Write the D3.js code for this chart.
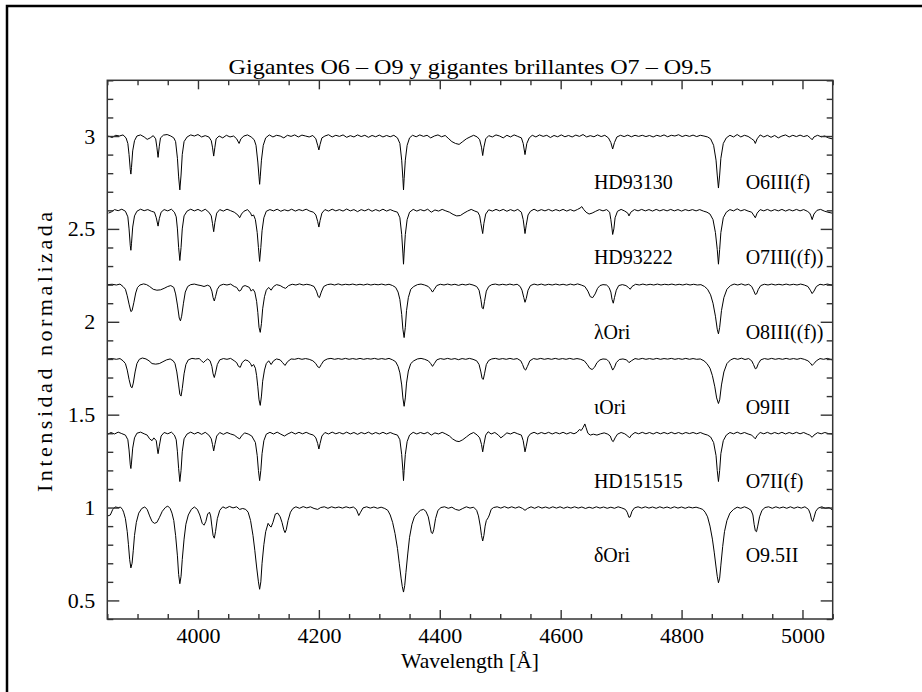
<!DOCTYPE html>
<html lang="es">
<head>
<meta charset="UTF-8">
<title>Gigantes O6 - O9</title>
<script src="https://d3js.org/d3.v7.min.js"></script>
<style>
  body { margin: 0; background: #fff; }
  svg text { font-family: "Liberation Serif", "DejaVu Serif", serif; fill: #000; }
</style>
</head>
<body>
<div id="chart"></div>
<script>
const width = 922, height = 692;

// offsets of each normalised spectrum, labels and where they sit
const offsets = [2.0, 1.6, 1.2, 0.8, 0.4, 0.0];
const starNames = ["HD93130", "HD93222", "λOri", "ιOri", "HD151515", "δOri"];
const spTypes = ["O6III(f)", "O7III((f))", "O8III((f))", "O9III", "O7II(f)", "O9.5II"];
const labelLevels = [2.715, 2.31, 1.905, 1.505, 1.105, 0.705];
const xTickLabels = [4000, 4200, 4400, 4600, 4800, 5000];
const yTickLabels = [0.5, 1, 1.5, 2, 2.5, 3];

// spectra: [wavelength (A), normalised flux]
const hd93130 = [[3852,1.00],[3858,0.992],[3864,1.004],[3870,1.0],[3876,1.006],[3881,0.99],
  [3884,0.96],[3886,0.9],[3888,0.82],[3889,0.795],[3890,0.83],[3892,0.92],[3895,0.975],
  [3899,1.0],[3905,1.006],[3911,0.995],[3916,0.982],[3921,0.99],[3926,1.002],
  [3930,0.985],[3932,0.94],[3934,0.885],[3936,0.945],[3938,0.99],
  [3943,1.005],[3949,1.008],[3955,1.0],[3960,0.99],
  [3963,0.97],[3966,0.88],[3968,0.78],[3970,0.71],[3972,0.79],[3974,0.9],[3977,0.97],
  [3982,0.995],[3988,1.006],[3994,1.0],[4000,1.008],[4006,0.995],[4012,1.002],[4018,0.995],
  [4022,0.975],[4024,0.94],[4026,0.892],[4028,0.94],[4030,0.985],
  [4035,1.0],[4041,0.99],[4047,1.004],[4053,0.995],[4059,1.0],
  [4064,0.985],[4068,0.96],[4071,0.985],
  [4076,1.0],[4082,1.006],[4088,0.995],[4093,0.98],
  [4096,0.95],[4099,0.86],[4101,0.78],[4102,0.74],[4103,0.78],[4105,0.87],[4108,0.95],[4112,0.99],
  [4118,1.006],[4124,0.995],[4130,1.004],[4136,1.0],[4142,0.99],[4148,1.004],[4154,0.998],[4160,1.006],
  [4166,0.995],[4172,1.005],[4178,1.0],[4184,0.995],[4190,1.003],
  [4195,0.985],[4198,0.95],[4200,0.925],[4202,0.955],[4205,0.99],
  [4210,1.0],[4216,1.007],[4222,0.995],[4228,1.004],[4234,0.998],[4240,1.006],[4246,0.993],[4252,1.002],
  [4258,0.995],[4264,1.006],[4270,0.997],[4276,1.004],[4282,0.993],[4288,1.003],[4294,0.996],[4300,1.005],
  [4306,0.995],[4312,1.003],[4318,0.996],[4324,1.004],[4330,0.99],
  [4334,0.96],[4337,0.87],[4339,0.77],[4340,0.71],[4341,0.77],[4343,0.87],[4346,0.95],[4350,0.99],
  [4355,1.004],[4361,0.996],[4367,1.006],[4373,0.998],[4379,1.004],[4385,0.99],[4391,1.0],[4397,1.006],
  [4403,0.996],[4409,1.003],[4415,0.985],
  [4420,0.97],[4426,0.96],[4432,0.955],[4438,0.97],[4444,0.985],[4450,0.995],[4456,1.004],[4462,0.995],
  [4466,0.98],[4469,0.94],[4471,0.895],[4473,0.94],[4476,0.985],
  [4481,1.002],[4487,0.995],[4493,1.006],[4499,1.0],[4505,0.99],[4511,1.004],[4517,0.995],[4523,1.006],
  [4529,0.998],[4535,0.99],
  [4538,0.96],[4541,0.90],[4544,0.96],[4548,0.99],
  [4553,1.004],[4559,0.995],[4565,1.006],[4571,0.998],[4577,1.004],[4583,0.992],[4589,1.003],[4595,0.996],
  [4601,1.006],[4607,0.996],[4613,1.003],[4619,0.995],[4625,1.005],[4631,0.998],[4637,1.008],[4643,0.995],
  [4649,1.002],[4655,0.996],[4661,1.006],[4667,0.997],[4673,1.004],[4679,0.99],
  [4683,0.965],[4686,0.93],[4689,0.965],[4693,0.995],
  [4699,1.004],[4705,0.997],[4711,1.005],[4717,0.996],[4723,1.004],[4729,0.998],[4735,1.004],[4741,0.997],
  [4747,1.003],[4753,0.995],[4759,1.004],[4765,0.998],[4771,1.006],[4777,0.996],[4783,1.004],[4789,1.0],
  [4795,1.007],[4801,0.997],[4807,1.004],[4813,0.998],[4819,1.005],[4825,0.997],[4831,1.004],[4837,1.0],[4843,0.995],
  [4848,0.985],[4853,0.95],[4857,0.87],[4859,0.79],[4861,0.72],[4863,0.79],[4865,0.88],[4869,0.96],[4874,0.99],
  [4880,1.004],[4886,0.995],[4892,1.008],[4898,0.995],[4904,1.004],[4910,0.998],[4916,0.985],
  [4920,0.975],[4922,0.96],[4925,0.985],
  [4930,1.006],[4936,0.995],[4942,1.004],[4948,0.993],[4954,1.003],[4960,0.99],[4966,1.0],[4972,1.006],
  [4978,0.995],[4984,1.004],[4990,0.997],[4996,1.005],[5002,0.997],[5008,1.003],[5013,0.99],
  [5016,0.98],[5019,0.995],
  [5025,1.004],[5031,0.996],[5037,1.0],[5043,0.99],[5049,0.985]];

const hd93222 = [[3852,0.985],[3857,0.992],[3862,1.004],[3868,0.998],[3874,1.006],[3880,0.995],
  [3884,0.965],[3886,0.9],[3888,0.81],[3889,0.785],[3890,0.82],[3892,0.91],[3895,0.97],
  [3899,0.995],[3905,1.006],[3911,0.998],[3917,1.004],[3923,0.995],[3928,0.99],
  [3931,0.96],[3934,0.915],[3936,0.955],[3939,0.99],
  [3944,1.004],[3950,0.997],[3956,1.006],[3961,0.99],
  [3964,0.965],[3966,0.9],[3968,0.8],[3970,0.73],[3972,0.8],[3974,0.9],[3977,0.97],
  [3982,0.996],[3988,1.006],[3994,0.997],[4000,1.005],[4006,0.995],[4012,1.006],[4018,0.99],
  [4022,0.97],[4024,0.93],[4026,0.885],[4028,0.935],[4031,0.985],
  [4036,1.004],[4042,0.996],[4048,1.006],[4054,0.998],[4060,0.99],
  [4066,0.975],[4069,0.96],[4072,0.98],
  [4076,0.995],[4082,1.004],
  [4087,0.985],[4089,0.97],[4092,0.975],
  [4095,0.95],[4098,0.88],[4100,0.8],[4102,0.725],[4104,0.8],[4106,0.89],[4109,0.96],[4113,0.995],
  [4119,1.004],[4125,0.997],[4131,1.006],[4137,0.995],[4143,1.003],[4149,0.997],[4155,1.006],[4161,0.996],
  [4167,1.004],[4173,0.998],[4179,1.006],[4185,0.996],[4191,0.99],
  [4195,0.975],[4198,0.94],[4200,0.91],[4202,0.945],[4205,0.985],
  [4210,1.004],[4216,0.996],[4222,1.006],[4228,0.997],[4234,1.004],[4240,0.996],[4246,1.007],[4252,0.997],
  [4258,1.004],[4264,0.993],[4270,1.004],[4276,0.997],[4282,1.006],[4288,0.995],[4294,1.004],[4300,0.996],
  [4306,1.006],[4312,0.996],[4318,1.004],[4324,0.996],[4330,0.99],
  [4334,0.96],[4337,0.87],[4339,0.77],[4340,0.71],[4341,0.77],[4343,0.87],[4346,0.95],[4350,0.99],
  [4356,1.005],[4362,0.996],[4368,1.004],[4374,0.997],[4380,1.006],[4386,0.99],[4392,1.002],[4398,0.996],
  [4404,1.005],[4410,0.997],[4416,0.99],
  [4422,0.978],[4428,0.97],[4434,0.972],[4440,0.985],[4446,0.996],[4452,1.005],[4458,0.996],[4463,0.99],
  [4466,0.97],[4468,0.93],[4471,0.875],[4473,0.93],[4476,0.98],
  [4481,1.003],[4487,0.996],[4493,1.005],[4499,0.997],[4505,1.005],[4511,0.995],[4517,1.004],[4523,0.996],
  [4529,1.005],[4535,0.99],
  [4538,0.95],[4540,0.9],[4541,0.875],[4543,0.92],[4546,0.975],[4550,0.995],
  [4556,1.006],[4562,0.996],[4568,1.004],[4574,0.997],[4580,1.005],[4586,0.996],[4592,1.004],[4598,0.997],
  [4604,1.005],[4610,0.996],[4616,1.004],[4622,0.996],[4628,1.005],
  [4632,1.012],[4635,1.02],[4638,1.005],[4642,0.99],[4647,0.98],[4652,0.985],[4658,0.995],[4664,1.004],
  [4670,0.997],[4676,1.004],[4681,0.99],
  [4683,0.95],[4685,0.9],[4686,0.87],[4688,0.9],[4690,0.96],[4694,0.995],
  [4700,1.005],[4706,0.996],
  [4711,0.985],[4713,0.97],[4716,0.99],
  [4722,1.004],[4728,0.997],[4734,1.005],[4740,0.997],[4746,1.004],[4752,0.996],[4758,1.005],[4764,0.997],
  [4770,1.004],[4776,0.997],[4782,1.005],[4788,0.997],[4794,1.004],[4800,0.996],[4806,1.004],[4812,0.998],
  [4818,1.004],[4824,0.997],[4830,1.004],[4836,0.996],[4842,0.99],
  [4847,0.98],[4852,0.95],[4856,0.88],[4859,0.79],[4861,0.71],[4863,0.79],[4865,0.88],[4869,0.96],[4874,0.99],
  [4880,1.004],[4886,0.997],[4892,1.008],[4898,0.997],[4904,1.004],[4910,0.996],[4916,0.99],
  [4919,0.975],[4922,0.96],[4925,0.985],
  [4930,1.004],[4936,0.997],[4942,1.005],[4948,0.996],[4954,1.004],[4960,0.997],[4966,1.005],[4972,0.996],
  [4978,1.004],[4984,0.997],[4990,1.005],[4996,0.997],[5002,1.004],[5008,0.995],[5012,0.985],
  [5014,0.97],[5016,0.95],[5019,0.98],
  [5024,1.0],[5030,1.005],[5036,0.996],[5042,0.99],[5049,0.985]];

const lamOri = [[3851,1.0],[3858,1.002],[3865,0.998],[3871,1.003],[3876,0.99],
  [3880,0.975],[3883,0.94],[3886,0.895],[3889,0.855],[3891,0.86],[3894,0.905],[3897,0.955],[3900,0.985],[3904,0.998],
  [3910,1.004],[3915,1.0],[3920,0.99],[3926,0.975],[3932,0.97],[3938,0.972],[3944,0.98],[3950,0.99],[3955,0.995],
  [3960,0.985],[3963,0.95],[3966,0.89],[3969,0.82],[3971,0.805],[3973,0.83],[3976,0.9],[3979,0.96],[3983,0.99],
  [3988,1.0],[3994,1.003],[4000,0.998],[4005,0.995],[4010,0.99],[4016,0.997],[4020,0.99],
  [4023,0.965],[4025,0.93],[4027,0.912],[4029,0.935],[4032,0.975],[4036,0.995],
  [4042,1.002],[4048,0.998],[4054,1.003],[4060,0.99],
  [4064,0.985],[4068,0.965],[4071,0.97],[4074,0.99],[4078,0.995],
  [4085,0.985],[4088,0.965],[4091,0.975],
  [4094,0.96],[4097,0.91],[4099,0.85],[4101,0.77],[4103,0.743],[4105,0.79],[4107,0.87],[4110,0.935],[4113,0.97],
  [4117,0.985],[4121,0.97],[4125,0.99],[4130,1.0],[4136,0.995],[4141,0.985],[4145,0.98],[4150,0.995],
  [4156,1.002],[4162,0.998],[4168,1.004],[4174,0.998],[4180,1.002],[4186,0.998],[4192,0.99],
  [4196,0.965],[4199,0.935],[4201,0.93],[4204,0.96],[4208,0.99],
  [4214,1.0],[4220,1.003],[4226,0.998],[4232,1.004],[4238,0.998],[4244,1.002],[4250,0.999],[4256,1.003],
  [4262,0.998],[4268,1.002],[4274,0.998],[4280,1.003],[4286,0.998],[4292,1.002],[4298,0.999],[4304,1.003],
  [4310,0.998],[4316,1.002],[4322,0.995],[4327,0.985],
  [4331,0.96],[4334,0.92],[4337,0.84],[4339,0.76],[4341,0.715],[4343,0.77],[4345,0.86],[4348,0.93],[4352,0.975],[4357,0.99],
  [4363,1.0],[4369,1.003],[4375,0.998],[4381,0.99],
  [4385,0.975],[4388,0.96],[4391,0.975],[4395,0.995],
  [4401,1.002],[4407,0.998],[4413,1.003],[4419,0.998],[4425,1.002],[4431,0.996],[4437,1.002],[4443,0.998],
  [4449,1.003],[4455,0.998],[4461,0.99],
  [4465,0.97],[4468,0.92],[4470,0.875],[4472,0.87],[4474,0.91],[4477,0.965],[4481,0.99],
  [4486,1.0],[4492,1.003],[4498,0.998],[4504,1.002],[4510,0.998],[4516,1.003],[4522,0.998],[4528,1.002],[4533,0.99],
  [4536,0.97],[4539,0.93],[4541,0.905],[4543,0.925],[4546,0.97],[4550,0.995],
  [4556,1.003],[4562,0.998],[4568,1.003],[4574,0.997],[4580,1.002],[4586,0.998],[4592,1.003],[4598,0.998],
  [4604,1.002],[4610,0.997],[4616,1.003],[4622,0.998],[4628,1.004],[4634,0.998],[4640,0.99],
  [4645,0.965],[4649,0.935],[4653,0.93],[4657,0.95],[4661,0.98],[4665,0.995],[4670,1.0],[4676,0.998],[4680,0.985],
  [4683,0.96],[4685,0.92],[4687,0.9],[4689,0.93],[4692,0.97],[4696,0.995],
  [4702,1.0],[4708,0.995],
  [4712,0.985],[4715,0.975],[4718,0.99],
  [4724,1.002],[4730,0.998],[4736,1.003],[4742,0.998],[4748,1.002],[4754,0.998],[4760,1.003],[4766,0.998],
  [4772,1.002],[4778,0.999],[4784,1.003],[4790,0.998],[4796,1.002],[4802,0.998],[4808,1.003],[4814,0.998],
  [4820,1.002],[4826,0.998],[4832,1.0],[4838,0.99],
  [4843,0.975],[4848,0.945],[4852,0.9],[4856,0.83],[4859,0.76],[4861,0.735],[4863,0.77],[4866,0.86],[4870,0.93],[4875,0.975],[4881,0.995],
  [4887,1.003],[4893,0.998],[4899,1.004],[4905,0.997],[4911,1.002],[4916,0.99],
  [4919,0.97],[4922,0.947],[4924,0.95],[4927,0.975],[4931,0.995],
  [4937,1.002],[4943,0.998],[4949,1.003],[4955,0.998],[4961,1.002],[4967,0.998],[4973,1.003],[4979,0.998],
  [4985,1.002],[4991,0.998],[4997,1.003],[5003,0.998],[5009,0.99],
  [5013,0.97],[5016,0.952],[5019,0.965],[5023,0.99],
  [5029,1.002],[5035,0.998],[5041,1.003],[5049,0.998]];

const iotOri = [[3851,1.0],[3858,1.002],[3865,0.998],[3871,1.002],[3876,0.99],
  [3880,0.975],[3883,0.94],[3886,0.89],[3889,0.85],[3891,0.845],[3893,0.87],[3896,0.93],[3899,0.975],[3903,0.998],
  [3908,1.005],[3914,1.0],[3919,0.99],[3924,0.975],[3930,0.972],[3936,0.975],[3942,0.985],[3948,0.995],[3954,1.0],[3959,0.99],
  [3962,0.975],[3965,0.93],[3968,0.86],[3970,0.81],[3972,0.8],[3974,0.84],[3977,0.92],[3980,0.97],[3984,0.995],
  [3990,1.003],[3996,1.0],[4002,1.002],[4006,0.99],[4009,0.98],[4012,0.99],[4016,1.0],[4020,0.99],
  [4023,0.96],[4025,0.92],[4027,0.9],[4029,0.925],[4032,0.97],[4036,0.995],
  [4042,1.002],[4048,0.998],[4054,1.003],[4060,0.99],
  [4064,0.98],[4067,0.96],[4070,0.955],[4073,0.98],[4078,0.995],[4083,0.99],
  [4087,0.975],[4089,0.96],[4092,0.97],
  [4095,0.95],[4097,0.91],[4099,0.85],[4101,0.78],[4103,0.75],[4105,0.8],[4107,0.88],[4110,0.94],[4113,0.975],
  [4117,0.99],[4121,0.97],[4125,0.99],[4130,1.0],[4136,0.995],[4140,0.98],[4144,0.965],[4148,0.985],
  [4154,1.0],[4160,0.998],[4166,1.003],[4172,0.998],[4178,1.002],[4184,0.998],[4190,0.99],
  [4195,0.975],[4198,0.958],[4201,0.953],[4204,0.97],[4208,0.99],
  [4214,1.0],[4220,1.003],[4226,0.998],[4232,1.002],[4238,0.998],[4244,1.003],[4250,0.998],[4256,1.002],
  [4262,0.998],[4268,1.003],[4274,0.998],[4280,1.002],[4286,0.999],[4292,1.003],[4298,0.998],[4304,1.002],
  [4310,0.998],[4316,1.003],[4322,0.995],[4327,0.985],
  [4331,0.96],[4334,0.925],[4337,0.86],[4339,0.79],[4341,0.745],[4343,0.79],[4345,0.87],[4348,0.935],[4352,0.975],[4357,0.99],
  [4363,1.0],[4369,1.003],[4375,0.998],[4381,0.99],
  [4385,0.975],[4388,0.96],[4391,0.975],[4395,0.995],
  [4401,1.002],[4407,0.998],[4413,1.003],[4419,0.998],[4425,1.002],[4431,0.996],[4437,1.002],[4443,0.998],
  [4449,1.003],[4455,0.998],[4461,0.99],
  [4465,0.97],[4468,0.93],[4470,0.895],[4472,0.89],[4474,0.92],[4477,0.97],[4481,0.992],
  [4486,1.0],[4492,1.003],[4498,0.998],[4504,1.002],[4510,0.998],[4516,1.003],[4522,0.998],[4528,1.002],[4534,0.99],
  [4537,0.97],[4540,0.945],[4542,0.94],[4545,0.96],[4549,0.99],
  [4555,1.002],[4561,0.998],[4567,1.003],[4573,0.998],[4579,1.002],[4585,0.998],[4591,1.003],[4597,0.998],
  [4603,1.002],[4609,0.998],[4615,1.003],[4621,0.998],[4627,1.002],[4633,0.998],[4639,0.99],
  [4644,0.97],[4648,0.95],[4652,0.943],[4656,0.955],[4660,0.98],[4665,0.995],[4670,1.0],[4676,0.998],[4680,0.985],
  [4683,0.965],[4686,0.94],[4689,0.955],[4692,0.98],[4697,0.997],
  [4703,1.0],[4709,0.995],[4713,0.98],[4717,0.99],
  [4723,1.002],[4729,0.998],[4735,1.003],[4741,0.998],[4747,1.002],[4753,0.998],[4759,1.003],[4765,0.998],
  [4771,1.002],[4777,0.999],[4783,1.003],[4789,0.998],[4795,1.002],[4801,0.998],[4807,1.003],[4813,0.998],
  [4819,1.002],[4825,0.998],[4831,1.0],[4837,0.99],
  [4842,0.975],[4847,0.95],[4851,0.91],[4855,0.85],[4858,0.79],[4861,0.76],[4863,0.78],[4866,0.86],[4870,0.93],[4875,0.975],[4881,0.995],
  [4887,1.003],[4893,0.998],[4899,1.004],[4905,0.997],[4911,1.002],[4916,0.99],
  [4919,0.97],[4922,0.947],[4924,0.95],[4927,0.975],[4931,0.995],
  [4937,1.002],[4943,0.998],[4949,1.003],[4955,0.998],[4961,1.002],[4967,0.998],[4973,1.003],[4979,0.998],
  [4985,1.002],[4991,0.998],[4997,1.003],[5003,0.998],[5009,0.99],
  [5013,0.978],[5016,0.965],[5019,0.975],[5023,0.99],
  [5029,1.002],[5035,0.998],[5041,1.003],[5049,0.995]];

const hd151515 = [[3851,0.995],[3856,1.004],[3862,0.996],[3868,1.006],[3874,0.998],[3880,0.99],
  [3884,0.965],[3886,0.91],[3888,0.83],[3889,0.81],[3890,0.84],[3892,0.92],[3895,0.975],
  [3899,1.0],[3905,1.006],[3911,0.997],[3916,0.99],[3920,0.97],[3924,0.96],[3927,0.975],
  [3931,0.96],[3933,0.91],[3934,0.89],[3936,0.93],[3939,0.985],
  [3944,1.004],[3950,0.997],[3956,1.006],[3961,0.99],
  [3964,0.965],[3966,0.9],[3968,0.81],[3970,0.74],[3972,0.8],[3974,0.9],[3977,0.97],
  [3982,0.996],[3988,1.006],[3994,0.996],[4000,1.005],[4006,0.994],[4012,1.005],[4018,0.99],
  [4022,0.97],[4024,0.94],[4026,0.905],[4028,0.94],[4031,0.985],
  [4036,1.004],[4042,0.994],[4048,1.004],[4054,0.996],[4060,0.99],
  [4066,0.975],[4069,0.97],[4072,0.985],
  [4077,1.002],[4083,0.996],[4089,0.985],
  [4095,0.95],[4098,0.88],[4100,0.8],[4102,0.745],[4104,0.8],[4106,0.89],[4109,0.96],[4113,0.995],
  [4119,1.005],[4125,0.996],[4131,1.006],[4137,0.995],[4143,0.985],[4149,0.997],[4155,1.006],[4161,0.996],
  [4167,1.005],[4173,0.997],[4179,1.005],[4185,0.996],[4191,0.99],
  [4195,0.975],[4198,0.945],[4200,0.915],[4202,0.945],[4205,0.985],
  [4210,1.004],[4216,0.996],[4222,1.006],[4228,0.997],[4234,1.004],[4240,0.996],[4246,1.006],[4252,0.996],
  [4258,1.004],[4264,0.994],[4270,1.004],[4276,0.997],[4282,1.006],[4288,0.995],[4294,1.004],[4300,0.996],
  [4306,1.005],[4312,0.996],[4318,1.004],[4324,0.996],[4330,0.99],
  [4334,0.965],[4337,0.885],[4339,0.8],[4340,0.745],[4341,0.8],[4343,0.885],[4346,0.955],[4350,0.99],
  [4356,1.005],[4362,0.996],[4368,1.004],[4374,0.997],[4380,1.005],[4386,0.99],[4392,1.002],[4398,0.996],
  [4404,1.005],[4410,0.996],[4416,0.985],
  [4421,0.97],[4427,0.958],[4432,0.955],[4438,0.965],[4444,0.98],[4450,0.995],[4456,1.004],[4462,0.99],
  [4466,0.975],[4469,0.94],[4471,0.9],[4473,0.94],[4476,0.99],[4480,1.008],
  [4485,0.996],[4491,1.004],[4497,0.99],[4501,0.975],[4505,0.985],[4511,1.002],[4517,0.996],[4523,1.005],
  [4529,0.997],[4535,0.99],
  [4538,0.96],[4540,0.92],[4541,0.9],[4543,0.93],[4546,0.98],[4550,0.997],
  [4556,1.005],[4562,0.996],[4568,1.004],[4574,0.997],[4580,1.005],[4586,0.996],[4592,1.004],[4598,0.997],
  [4604,1.005],[4610,0.996],[4616,1.004],[4622,0.997],[4627,1.005],
  [4631,1.02],[4634,1.015],[4637,1.03],[4640,1.05],[4642,1.03],[4645,1.0],[4649,0.99],[4654,0.995],
  [4660,0.99],[4666,0.997],[4672,1.002],[4678,0.995],
  [4682,0.985],[4685,0.96],[4687,0.955],[4690,0.975],[4694,0.995],
  [4700,1.004],[4706,0.997],
  [4711,0.985],[4714,0.975],[4717,0.99],
  [4723,1.004],[4729,0.997],[4735,1.005],[4741,0.997],[4747,1.004],[4753,0.996],[4759,1.005],[4765,0.997],
  [4771,1.004],[4777,0.997],[4783,1.005],[4789,0.997],[4795,1.004],[4801,0.996],[4807,1.004],[4813,0.998],
  [4819,1.004],[4825,0.997],[4831,1.004],[4837,0.996],[4843,0.99],
  [4848,0.98],[4853,0.95],[4857,0.88],[4859,0.8],[4861,0.74],[4863,0.8],[4865,0.89],[4869,0.96],[4874,0.99],
  [4880,1.004],[4886,0.997],[4892,1.006],[4898,0.997],[4904,1.004],[4910,0.996],[4916,0.99],
  [4919,0.98],[4922,0.97],[4925,0.988],
  [4930,1.004],[4936,0.997],[4942,1.005],[4948,0.996],[4954,1.004],[4960,0.997],[4966,1.005],[4972,0.996],
  [4978,1.004],[4984,0.997],[4990,1.005],[4996,0.997],[5002,1.004],[5008,0.995],[5012,0.99],
  [5016,0.978],[5019,0.99],
  [5025,1.003],[5031,0.997],[5037,1.004],[5043,0.998],[5049,0.996]];

const delOri = [[3851,0.955],[3855,0.96],[3859,0.99],[3863,1.003],[3868,1.0],[3872,1.002],[3875,0.99],
  [3877,0.975],[3880,0.94],[3883,0.87],[3885,0.8],[3887,0.72],[3889,0.675],[3891,0.7],[3893,0.77],[3895,0.85],
  [3898,0.92],[3902,0.97],[3907,0.995],
  [3912,1.003],[3916,0.99],[3920,0.955],[3924,0.925],[3928,0.915],[3932,0.92],[3936,0.945],[3941,0.98],
  [3946,1.0],[3950,1.008],[3954,0.995],
  [3957,0.97],[3960,0.93],[3963,0.85],[3966,0.74],[3968,0.64],[3970,0.59],[3972,0.63],[3974,0.72],[3977,0.83],
  [3980,0.91],[3984,0.96],[3989,0.99],
  [3994,1.003],[3999,0.99],[4003,0.96],[4007,0.915],[4010,0.905],[4013,0.925],[4016,0.965],[4019,0.975],
  [4021,0.955],[4023,0.9],[4025,0.85],[4027,0.835],[4029,0.87],[4032,0.94],[4036,0.985],
  [4041,1.004],[4046,0.996],[4052,1.006],[4058,0.998],[4064,1.004],[4069,0.99],[4074,0.995],[4079,0.99],
  [4083,0.975],[4087,0.93],[4091,0.85],[4094,0.77],[4097,0.68],[4100,0.6],[4102,0.56],[4104,0.6],[4106,0.7],
  [4109,0.8],[4112,0.87],[4116,0.915],
  [4119,0.9],[4121,0.895],[4124,0.92],[4128,0.965],[4132,0.97],[4136,0.95],
  [4139,0.92],[4142,0.88],[4144,0.865],[4146,0.88],[4149,0.93],[4153,0.975],[4157,0.995],
  [4162,1.004],[4168,0.996],[4174,1.005],[4180,0.998],[4186,1.004],[4192,0.995],[4198,0.99],[4203,1.0],
  [4209,1.004],[4215,0.996],[4221,1.004],[4227,0.998],[4233,1.003],[4239,0.997],[4245,1.004],[4251,0.998],
  [4257,1.003],[4262,0.99],[4266,0.957],[4269,0.975],[4273,0.998],[4279,1.004],[4285,0.997],[4291,1.003],
  [4297,0.996],[4303,1.002],[4309,0.995],[4314,0.985],
  [4318,0.96],[4322,0.92],[4326,0.86],[4330,0.78],[4333,0.7],[4336,0.62],[4338,0.575],[4340,0.545],[4342,0.58],
  [4344,0.65],[4347,0.75],[4350,0.84],[4354,0.91],[4358,0.95],[4363,0.97],[4368,0.985],[4373,0.99],[4377,0.98],
  [4381,0.95],[4384,0.9],[4386,0.865],[4388,0.86],[4390,0.88],[4393,0.94],[4397,0.985],[4402,1.0],
  [4408,1.004],[4414,0.996],[4420,1.002],[4426,0.99],[4432,0.985],[4438,0.995],[4444,1.004],[4450,0.997],
  [4456,1.002],[4461,0.985],
  [4464,0.955],[4467,0.9],[4469,0.85],[4471,0.82],[4473,0.85],[4475,0.9],[4477,0.93],[4480,0.945],[4482,0.96],
  [4485,0.99],[4489,1.0],
  [4495,1.004],[4501,0.997],[4507,1.005],[4513,0.997],[4519,1.004],[4525,0.997],[4531,1.004],[4537,0.995],
  [4541,0.985],[4545,0.995],[4551,1.004],[4557,0.996],[4563,1.005],[4569,0.997],[4575,1.003],[4581,0.996],
  [4587,1.004],[4593,0.997],[4599,1.004],[4605,0.996],[4611,1.003],[4617,0.997],[4623,1.004],[4629,0.997],
  [4635,1.003],[4641,0.995],[4647,1.002],[4653,0.996],[4659,1.004],[4665,0.997],[4671,1.003],[4677,0.996],
  [4683,1.002],[4689,0.996],[4695,1.004],[4701,0.998],[4707,0.99],
  [4710,0.975],[4713,0.947],[4715,0.95],[4718,0.98],[4722,0.998],
  [4728,1.004],[4734,0.997],[4740,1.004],[4746,0.997],[4752,1.003],[4758,0.996],[4764,1.004],[4770,0.997],
  [4776,1.003],[4782,0.996],[4788,1.004],[4794,0.997],[4800,1.003],[4806,0.996],[4812,1.003],[4818,0.998],
  [4824,1.002],[4830,0.996],[4835,0.99],
  [4839,0.975],[4843,0.95],[4847,0.9],[4851,0.83],[4854,0.76],[4857,0.68],[4859,0.63],[4861,0.595],[4863,0.62],
  [4865,0.69],[4868,0.79],[4871,0.87],[4875,0.93],[4880,0.97],[4886,0.99],
  [4892,1.002],[4898,0.996],[4904,1.004],[4910,0.996],[4915,0.985],
  [4918,0.96],[4920,0.91],[4922,0.875],[4924,0.87],[4926,0.9],[4929,0.95],[4933,0.985],[4938,1.0],
  [4944,1.004],[4950,0.996],[4956,1.004],[4962,0.997],[4968,1.003],[4974,0.996],[4980,1.004],[4986,0.996],
  [4992,1.003],[4998,0.997],[5004,1.004],[5010,0.99],
  [5013,0.965],[5015,0.935],[5017,0.925],[5019,0.945],[5022,0.98],[5026,0.997],
  [5032,1.004],[5038,0.996],[5044,1.0],[5049,0.988]];

const spectra = [hd93130, hd93222, lamOri, iotOri, hd151515, delOri];

const plot = {left: 107.3, right: 832.7, top: 80.3, bottom: 619};

const x = d3.scaleLinear().domain([3850, 5050]).range([plot.left, plot.right]);
const y = d3.scaleLinear().domain([0.4, 3.3]).range([plot.bottom, plot.top]);

const svg = d3.select("#chart").append("svg")
    .attr("width", width)
    .attr("height", height);

// page frame (only top and left edges show in the picture)
svg.append("rect")
    .attr("x", 7).attr("y", 6)
    .attr("width", 1000).attr("height", 1000)
    .attr("fill", "none").attr("stroke", "#000").attr("stroke-width", 2.5);

svg.append("clipPath").attr("id", "clip")
  .append("rect")
    .attr("x", plot.left).attr("y", plot.top)
    .attr("width", plot.right - plot.left).attr("height", plot.bottom - plot.top);

const line = d3.line();

svg.append("g")
    .attr("clip-path", "url(#clip)")
  .selectAll("path")
  .data(spectra)
  .join("path")
    .attr("fill", "none")
    .attr("stroke", "#000")
    .attr("stroke-width", 1)
    .attr("stroke-linejoin", "round")
    .attr("d", (s, i) => line(s.map(d => [x(d[0]), y(d[1] + offsets[i])])));

// axes, ticks pointing inwards on all four sides
const xMinor = d3.range(3850, 5051, 50).filter(v => v % 200 !== 0);
const yMinor = d3.range(4, 34).map(v => v / 10).filter(v => Math.round(v * 10) % 5 !== 0);

function styleAxis(g) {
  g.select(".domain").remove();
  g.selectAll("line").attr("stroke", "#333").attr("stroke-width", 1.4);
  g.selectAll("text").style("font-family", '"Liberation Serif", serif').style("font-size", "22px").attr("fill", "#000");
}

svg.append("g").attr("transform", `translate(0,${plot.bottom})`)
    .call(d3.axisBottom(x).tickValues(xTickLabels).tickSize(-9).tickPadding(8).tickFormat(d3.format("d")))
    .call(styleAxis);
svg.append("g").attr("transform", `translate(0,${plot.bottom})`)
    .call(d3.axisBottom(x).tickValues(xMinor).tickSize(-5).tickFormat(""))
    .call(styleAxis);
svg.append("g").attr("transform", `translate(0,${plot.top})`)
    .call(d3.axisTop(x).tickValues(xTickLabels).tickSize(-9).tickFormat(""))
    .call(styleAxis);
svg.append("g").attr("transform", `translate(0,${plot.top})`)
    .call(d3.axisTop(x).tickValues(xMinor).tickSize(-5).tickFormat(""))
    .call(styleAxis);

svg.append("g").attr("transform", `translate(${plot.left},0)`)
    .call(d3.axisLeft(y).tickValues(yTickLabels).tickSize(-12).tickPadding(12).tickFormat(d => d))
    .call(styleAxis);
svg.append("g").attr("transform", `translate(${plot.left},0)`)
    .call(d3.axisLeft(y).tickValues(yMinor).tickSize(-6).tickFormat(""))
    .call(styleAxis);
svg.append("g").attr("transform", `translate(${plot.right},0)`)
    .call(d3.axisRight(y).tickValues(yTickLabels).tickSize(-12).tickFormat(""))
    .call(styleAxis);
svg.append("g").attr("transform", `translate(${plot.right},0)`)
    .call(d3.axisRight(y).tickValues(yMinor).tickSize(-6).tickFormat(""))
    .call(styleAxis);

svg.append("rect")
    .attr("x", plot.left).attr("y", plot.top)
    .attr("width", plot.right - plot.left).attr("height", plot.bottom - plot.top)
    .attr("fill", "none").attr("stroke", "#333").attr("stroke-width", 1.5);

// star labels
const labels = svg.append("g").style("font-size", "20px");
labels.selectAll("text.name")
  .data(starNames)
  .join("text")
    .attr("class", "name")
    .attr("x", x(4655))
    .attr("y", (d, i) => y(labelLevels[i]))
    .text(d => d);
labels.selectAll("text.sptype")
  .data(spTypes)
  .join("text")
    .attr("class", "sptype")
    .attr("x", x(4906))
    .attr("y", (d, i) => y(labelLevels[i]))
    .text(d => d);

// titles
svg.append("text")
    .attr("x", (plot.left + plot.right) / 2).attr("y", 74)
    .attr("text-anchor", "middle")
    .attr("textLength", 483).attr("lengthAdjust", "spacingAndGlyphs")
    .style("font-size", "21px")
    .text("Gigantes O6 – O9 y gigantes brillantes O7 – O9.5");

svg.append("text")
    .attr("x", (plot.left + plot.right) / 2).attr("y", 668)
    .attr("text-anchor", "middle")
    .attr("textLength", 138).attr("lengthAdjust", "spacingAndGlyphs")
    .style("font-size", "21px")
    .text("Wavelength [Å]");

svg.append("text")
    .attr("transform", "translate(52,352) rotate(-90)")
    .attr("text-anchor", "middle")
    .attr("textLength", 280).attr("lengthAdjust", "spacing")
    .style("font-size", "22px")
    .text("Intensidad normalizada");
</script>
</body>
</html>
